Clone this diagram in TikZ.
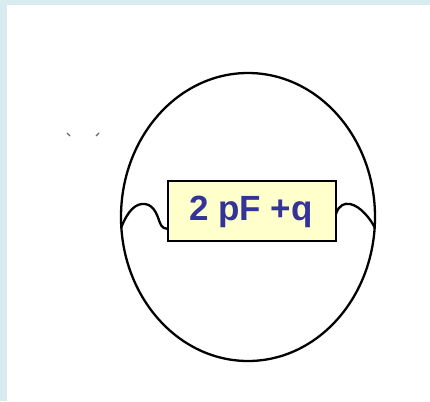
\documentclass[tikz,border=0pt]{standalone}
\usepackage{fontspec}
\setmainfont{Liberation Sans}
\usetikzlibrary{shapes.geometric}
\definecolor{bgcyan}{HTML}{D8EBEF}
\definecolor{boxfill}{HTML}{FFFFCC}
\definecolor{txtblue}{HTML}{333399}
\tikzset{
  shell/.style={draw=black, line width=2.3pt, ellipse, minimum width=254pt, minimum height=288pt, inner sep=0pt},
  capbox/.style={draw=black, line width=1.6pt, fill=boxfill, minimum width=168pt, minimum height=60pt, inner sep=0pt},
  lbltext/.style={text=txtblue, font=\fontsize{35}{40}\selectfont\bfseries, inner sep=0pt},
  wire/.style={draw=black, line width=2.3pt},
  tick/.style={draw=black!60, line width=1.2pt}
}
\begin{document}
\begin{tikzpicture}[x=1pt,y=-1pt]
\fill[bgcyan] (0,0) rectangle (430,401);
\fill[white] (7,5) rectangle (430,401);
\useasboundingbox (0,0) rectangle (430,401);
\node[shell] (shell) at (248,217) {};
\node[capbox] (cap) at (252,211) {};
\node[lbltext] (lbl) at (251,212) {2 pF +q};
\coordinate (lw) at (121,228);
\coordinate (rw) at (375,228);
\coordinate (cl) at (168,229);
\coordinate (cr) at (336,214);
\draw[wire] (lw) .. controls (128,210) and (136,203) .. (145,204) .. controls (155,205) and (158,218) .. (160,223) .. controls (162,228) and (165,229) .. (cl);
\draw[wire] (cr) .. controls (339,205) and (344,203) .. (350,204) .. controls (360,206) and (370,218) .. (rw);
\coordinate (t1a) at (67,133);
\coordinate (t1b) at (70,136);
\coordinate (t2a) at (99,133);
\coordinate (t2b) at (96,136);
\draw[tick] (t1a) -- (t1b);
\draw[tick] (t2a) -- (t2b);
\end{tikzpicture}
\end{document}
